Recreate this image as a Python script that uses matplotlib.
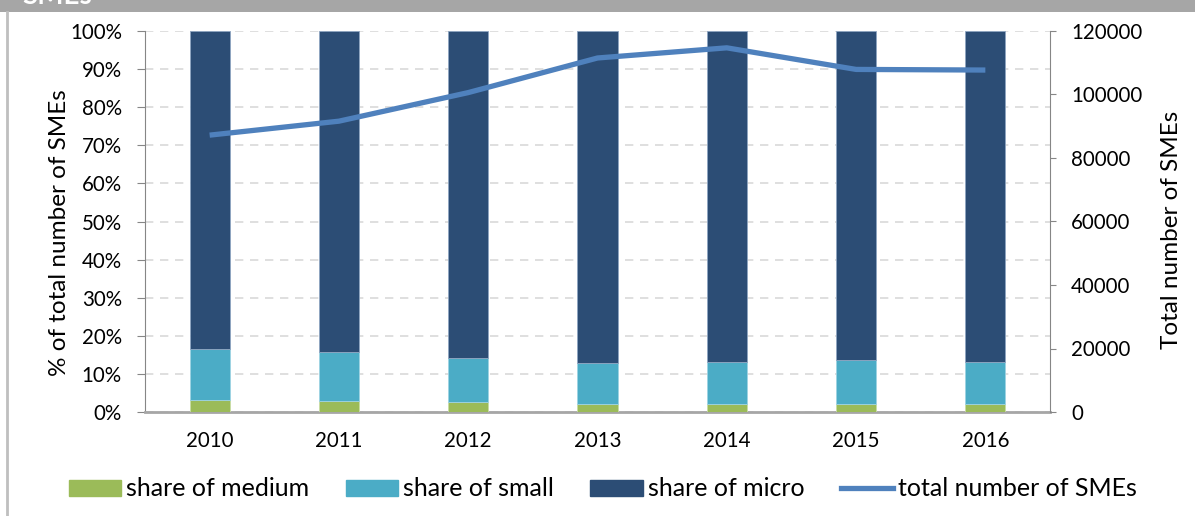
import matplotlib
matplotlib.use("Agg")
import matplotlib.pyplot as plt
from matplotlib.patches import Rectangle
from matplotlib.lines import Line2D
import numpy as np

plt.rcParams['font.family'] = ['Lato', 'DejaVu Sans']

years = ["2010", "2011", "2012", "2013", "2014", "2015", "2016"]
share_medium = [3.1, 2.8, 2.5, 2.1, 2.0, 2.0, 2.0]
share_small = [13.5, 12.9, 11.8, 10.7, 11.0, 11.6, 11.0]
share_micro = [100 - m - s for m, s in zip(share_medium, share_small)]
total_smes = [87200, 91600, 100600, 111500, 114700, 107900, 107700]

c_medium = "#9BBB59"
c_small = "#4BACC6"
c_micro = "#2C4D75"
c_line = "#4F81BD"
gray = "#868686"

fig = plt.figure(figsize=(11.95, 5.16), dpi=100)
# header bar (title text is cut off at the top edge, as in the original)
fig.patches.append(Rectangle((0, 1 - 12/516), 1, 12/516, transform=fig.transFigure,
                             facecolor="#A6A6A6", edgecolor="none", zorder=0))
fig.text(22/1195, 1 - 4/516, "SMEs", color="white", fontsize=20, fontweight="bold",
         va="baseline", ha="left")
fig.lines.append(Line2D([7/1195, 7/1195], [0, 1 - 12/516], transform=fig.transFigure,
                        color="#BFBFBF", lw=2))

ax = fig.add_axes([145/1195, 1 - 412/516, 905/1195, 381/516])
x = np.arange(len(years))
w = 0.31
ax.bar(x, share_medium, w, color=c_medium, edgecolor="#C9DDA3", linewidth=0.6, zorder=3)
ax.bar(x, share_small, w, bottom=share_medium, color=c_small, edgecolor="#9ED3E3", linewidth=0.6, zorder=3)
bottom2 = [m + s for m, s in zip(share_medium, share_small)]
ax.bar(x, share_micro, w, bottom=bottom2, color=c_micro, edgecolor="#8FA6C2", linewidth=0.6, zorder=3)

ax.set_xlim(-0.5, len(years) - 0.5)
ax.set_ylim(0, 100)
ax.set_yticks(np.arange(0, 101, 10))
ax.set_yticklabels([f"{v}%" for v in range(0, 101, 10)])
ax.set_xticks(x)
ax.set_xticklabels(years)
ax.yaxis.grid(True, color="#D9D9D9", linestyle=(0, (5, 4)), linewidth=1.2, zorder=0)
ax.set_axisbelow(True)
ax.spines["top"].set_visible(False)
ax.spines["left"].set_color(gray)
ax.spines["right"].set_visible(False)
ax.spines["bottom"].set_color("#A6A6A6")
ax.spines["bottom"].set_linewidth(2)
ax.tick_params(axis="y", direction="out", length=5.8, color=gray, labelsize=14.8, pad=10.8)
ax.tick_params(axis="x", length=0, labelsize=14.8, pad=14)
ax.set_ylabel("% of total number of SMEs", fontsize=17.5)
ax.yaxis.set_label_coords((60 - 145) / 905, 0.47)
ax.yaxis.label.set_verticalalignment("center")

ax2 = ax.twinx()
ax2.plot(x, total_smes, color=c_line, lw=3.8, solid_capstyle="butt", zorder=5)
ax2.set_ylim(0, 120000)
ax2.set_yticks(np.arange(0, 120001, 20000))
ax2.spines["top"].set_visible(False)
ax2.spines["left"].set_visible(False)
ax2.spines["bottom"].set_visible(False)
ax2.spines["right"].set_color(gray)
ax2.tick_params(axis="y", direction="out", length=4.3, color=gray, labelsize=14.8, pad=10.8)
ax2.set_ylabel("Total number of SMEs", fontsize=17.5)
ax2.yaxis.set_label_coords((1172 - 145) / 905, 0.479)
ax2.yaxis.label.set_verticalalignment("center")

handles = [Rectangle((0, 0), 1, 1, color=c_medium),
           Rectangle((0, 0), 1, 1, color=c_small),
           Rectangle((0, 0), 1, 1, color=c_micro),
           Line2D([0], [0], color=c_line, lw=3.8)]
labels = ["share of medium", "share of small", "share of micro", "total number of SMEs"]
fig.legend(handles, labels, loc="center", bbox_to_anchor=(603/1195, 1 - 489/516), ncol=4,
           frameon=False, fontsize=18, handlelength=2.1, handleheight=0.6,
           handletextpad=0.2, columnspacing=1.45, borderpad=0, borderaxespad=0)

fig.savefig("out.png", dpi=100)
